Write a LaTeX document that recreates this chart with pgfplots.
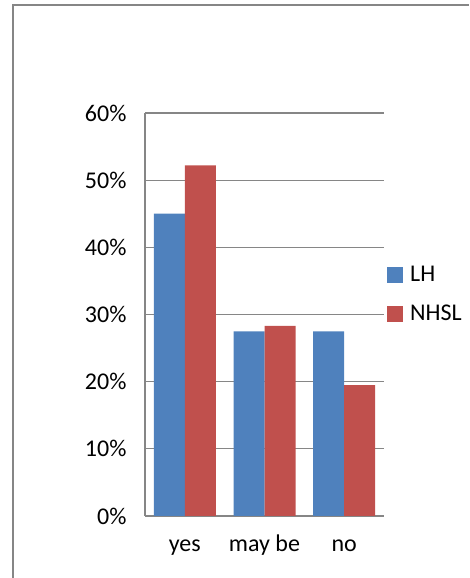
\documentclass[border=0pt]{standalone}
\usepackage{fontspec}
\setmainfont{Carlito}
\usepackage{pgfplots}
\pgfplotsset{compat=1.18}
\definecolor{blueB}{HTML}{4F81BD}
\definecolor{redB}{HTML}{C0504D}
\definecolor{gridG}{HTML}{868686}
\begin{document}
\begin{tikzpicture}
\path[use as bounding box] (0,0) rectangle (469pt,578pt);
\draw[gridG, line width=1.2pt] (13pt,0) -- (13pt,573pt) -- (469pt,573pt);
\begin{axis}[
  at={(145pt,62pt)}, anchor=south west,
  width=239pt, height=403pt, scale only axis,
  ymin=0, ymax=60, xmin=-0.5, xmax=2.5,
  ytick={0,10,...,60},
  /pgf/number format/assume math mode=true,
  yticklabel={\pgfmathprintnumber{\tick}\%},
  xtick={0,1,2}, xticklabels={yes, may be, no},
  ymajorgrids, grid style={gridG, line width=1.2pt},
  axis x line*=bottom, axis y line*=left,
  axis line style={gridG, line width=1.2pt, -},
  major tick length=0pt,
  tick label style={font=\fontsize{24}{28}\selectfont},
  yticklabel style={xshift=-15pt},
  xticklabel style={text height=17pt, text depth=5pt, yshift=-15pt},
  ybar=0pt, bar width=31pt,
  legend entries={LH,NHSL},
  legend style={draw=none, fill=none, at={(1.0126,0.55)}, anchor=west,
    font=\fontsize{24}{28}\selectfont, row sep=18pt, inner xsep=0pt, inner ysep=0pt,
    nodes={inner xsep=7pt},
    cells={anchor=west}},
  legend image code/.code={\fill[#1] (0pt,-8pt) rectangle (16pt,8pt);},
]
\addplot[fill=blueB, draw=none] coordinates {(0,45) (1,27.5) (2,27.5)};
\addplot[fill=redB, draw=none] coordinates {(0,52.2) (1,28.3) (2,19.5)};
\end{axis}
\end{tikzpicture}
\end{document}
